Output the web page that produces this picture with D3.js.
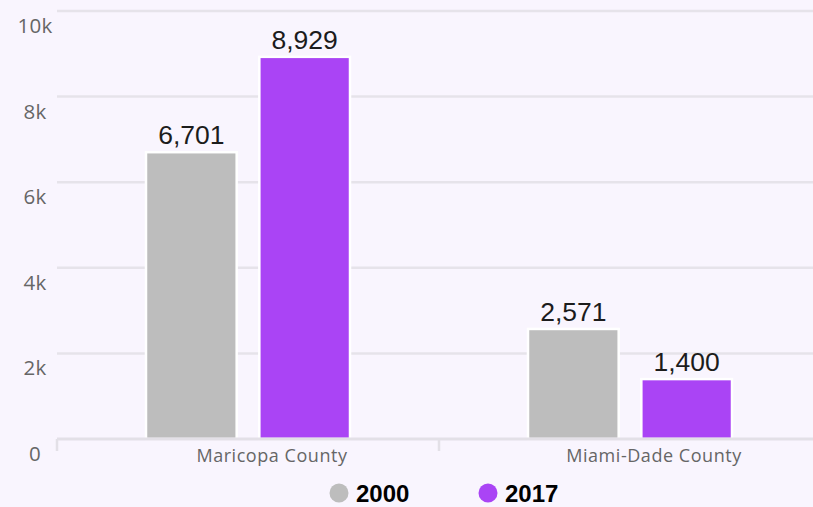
<!DOCTYPE html>
<html><head><meta charset="utf-8">
<script src="https://cdn.jsdelivr.net/npm/d3@7"></script>
<style>
html,body{margin:0;padding:0;background:#f9f5fe;}
svg{display:block;}
</style></head>
<body>
<svg id="chart" width="813" height="507"></svg>
<script>
const categories = ["Maricopa County", "Miami-Dade County"];
const seriesNames = ["2000", "2017"];
const values2000 = [6701, 2571];
const values2017 = [8929, 1400];
const yTicks = [0, 2000, 4000, 6000, 8000, 10000];
const yTickLabels = ["0", "2k", "4k", "6k", "8k", "10k"];
const colors = ["#bdbdbd", "#aa44f5"];

const svg = d3.select("#chart");
const W = 813, H = 507;
svg.append("rect").attr("width", W).attr("height", H).attr("fill", "#f9f5fe");

const x0 = d3.scaleBand().domain(categories).range([57, 821]).padding(0);
const x1 = d3.scaleBand().domain(seriesNames).range([89, 293]).paddingInner(0.2).paddingOuter(0);
const y = d3.scaleLinear().domain([0, 10000]).range([439, 11]);

// gridlines
svg.append("g").selectAll("line").data(yTicks.filter(d => d > 0)).join("line")
  .attr("x1", 57).attr("x2", W)
  .attr("y1", d => y(d)).attr("y2", d => y(d))
  .attr("stroke", "#e6e3ea").attr("stroke-width", 2.5);

// y labels
svg.append("g").selectAll("text").data(yTicks).join("text")
  .attr("x", 35).attr("y", d => y(d) + 22)
  .attr("text-anchor", "middle")
  .attr("font-family", "'Open Sans', sans-serif")
  .attr("font-size", 20.5).attr("fill", "#666")
  .attr("letter-spacing", 0.3)
  .text((d, i) => yTickLabels[i]);

// bars
const rows = categories.map((c, i) => ({cat: c, vals: [values2000[i], values2017[i]]}));
const groups = svg.append("g").selectAll("g").data(rows).join("g")
  .attr("transform", d => `translate(${x0(d.cat)},0)`);
groups.selectAll("rect").data(d => d.vals.map((v, j) => ({s: seriesNames[j], v, j}))).join("rect")
  .attr("x", d => x1(d.s)).attr("width", x1.bandwidth())
  .attr("y", d => y(d.v)).attr("height", d => y(0) - y(d.v))
  .attr("fill", d => colors[d.j])
  .attr("stroke", "#ffffff").attr("stroke-width", 2.5);
groups.selectAll("text").data(d => d.vals.map((v, j) => ({s: seriesNames[j], v, j}))).join("text")
  .attr("x", d => x1(d.s) + x1.bandwidth() / 2)
  .attr("y", d => y(d.v) - 8)
  .attr("text-anchor", "middle")
  .attr("font-family", "'Liberation Sans', Arial, sans-serif")
  .attr("font-size", 26.5).attr("fill", "#1c1c1c")
  .text(d => d3.format(",")(d.v));

// x axis line
svg.append("line").attr("x1", 57).attr("x2", W).attr("y1", y(0)).attr("y2", y(0))
  .attr("stroke", "#e3e0e7").attr("stroke-width", 3);
svg.append("g").selectAll("line").data(categories).join("line")
  .attr("x1", d => x0(d)).attr("x2", d => x0(d))
  .attr("y1", y(0)).attr("y2", y(0) + 12)
  .attr("stroke", "#e3e0e7").attr("stroke-width", 2.5);
svg.append("g").selectAll("text").data(categories).join("text")
  .attr("x", d => x0(d) + x0.bandwidth() / 2 + 24)
  .attr("y", 462)
  .attr("text-anchor", "middle")
  .attr("font-family", "'Open Sans', sans-serif")
  .attr("font-size", 18).attr("fill", "#666")
  .attr("letter-spacing", 0.55)
  .text(d => d);

// legend
const legendX = [339, 488];
const lg = svg.append("g").selectAll("g").data(seriesNames).join("g")
  .attr("transform", (d, i) => `translate(${legendX[i]},493)`);
lg.append("circle").attr("r", 9.5).attr("fill", (d, i) => colors[i]);
lg.append("text").attr("x", 17).attr("y", 8.5)
  .attr("font-family", "'Liberation Sans', Arial, sans-serif")
  .attr("font-weight", "bold").attr("font-size", 24).attr("fill", "#000")
  .text(d => d);
</script>
</body></html>
